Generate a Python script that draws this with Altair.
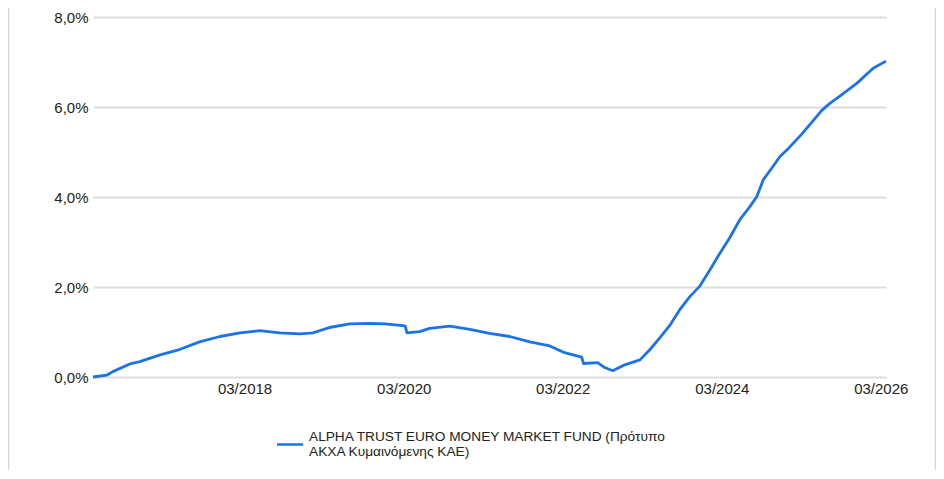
import altair as alt
import pandas as pd

# ---- data ----
dates = [
    "2016-04-04", "2016-06-06", "2016-07-04", "2016-09-20", "2016-11-05",
    "2017-02-06", "2017-05-06", "2017-08-06", "2017-11-08", "2018-02-08",
    "2018-05-09", "2018-08-09", "2018-11-10", "2019-01-09", "2019-03-26",
    "2019-06-26", "2019-09-27", "2019-12-05", "2020-02-26", "2020-03-08",
    "2020-03-16", "2020-05-13", "2020-06-28", "2020-09-29", "2020-12-30",
    "2021-03-30", "2021-07-01", "2021-10-01", "2022-01-01", "2022-03-10",
    "2022-05-27", "2022-06-05", "2022-08-09", "2022-09-10", "2022-10-17",
    "2022-12-11", "2023-02-19", "2023-04-04", "2023-05-19", "2023-07-05",
    "2023-08-20", "2023-10-05", "2023-11-21", "2024-01-06", "2024-02-21",
    "2024-04-07", "2024-05-22", "2024-07-07", "2024-08-09", "2024-09-07",
    "2024-10-16", "2024-11-23", "2025-01-01", "2025-02-28", "2025-04-15",
    "2025-06-02", "2025-07-10", "2025-08-25", "2025-11-12", "2026-01-25",
    "2026-03-25",
]
values = [
    0.00, 0.04, 0.12, 0.29, 0.34,
    0.49, 0.61, 0.78, 0.90, 0.98,
    1.03, 0.98, 0.96, 0.98, 1.10,
    1.18, 1.19, 1.18, 1.14, 1.13,
    0.98, 1.01, 1.08, 1.13, 1.06,
    0.97, 0.90, 0.78, 0.69, 0.54,
    0.44, 0.30, 0.32, 0.21, 0.14,
    0.27, 0.38, 0.60, 0.86, 1.14,
    1.49, 1.78, 2.02, 2.38, 2.75,
    3.10, 3.49, 3.78, 4.01, 4.38,
    4.64, 4.90, 5.08, 5.38, 5.64,
    5.92, 6.08, 6.24, 6.53, 6.86,
    7.02,
]
series_name = "ALPHA TRUST EURO MONEY MARKET FUND (Πρότυπο ΑΚΧΑ Κυμαινόμενης ΚΑΕ)"
y_ticks = [0, 2, 4, 6, 8]
x_tick_years = [2018, 2020, 2022, 2024, 2026]

df = pd.DataFrame({"date": dates, "value": values, "series": series_name})
legend_df = pd.DataFrame({"series": [series_name]})

FONT = "Liberation Sans"
TEXT = "#222222"
BLUE = "#1a73e8"

W, H = 793, 360
PAD = {"left": 85, "top": 9, "right": 50, "bottom": 93}

line = alt.Chart(df).mark_line(strokeWidth=2.8, strokeJoin="round", color=BLUE).encode(
    x=alt.X(
        "date:T",
        scale=alt.Scale(type="utc", domain=[dates[0], dates[-1]], nice=False),
        axis=alt.Axis(
            values=[alt.DateTime(year=y, month=3, date=1, utc=True) for y in x_tick_years],
            format="%m/%Y", title=None, grid=False, domain=False, ticks=False,
            labelFont=FONT, labelFontSize=15, labelColor=TEXT, labelPadding=4,
            labelFlush=False, labelOverlap=False,
        ),
    ),
    y=alt.Y(
        "value:Q",
        scale=alt.Scale(domain=[0, 8], nice=False),
        axis=alt.Axis(
            values=y_ticks,
            labelExpr="replace(format(datum.value, '.1f'), '.', ',') + '%'",
            title=None, domain=False, ticks=False,
            gridColor="#dedede", gridWidth=2,
            labelFont=FONT, labelFontSize=15, labelColor=TEXT, labelPadding=5,
        ),
    ),
    detail="series:N",
)

# legend (symbol + two-line label) below the plot
legend_symbol = alt.Chart(legend_df).mark_rule(color=BLUE, strokeWidth=2.5).encode(
    x=alt.value(184), x2=alt.value(210), y=alt.value(427.5),
)
legend_text = alt.Chart(legend_df).transform_calculate(
    lines="[substring(datum.series, 0, indexof(datum.series, ' ΑΚΧΑ')), "
          "substring(datum.series, indexof(datum.series, 'ΑΚΧΑ'))]"
).mark_text(
    align="left", baseline="top", lineHeight=15, font=FONT, fontSize=13.7, color=TEXT,
).encode(
    x=alt.value(216), y=alt.value(413), text="lines:N",
)

border_df = pd.DataFrame({"side": ["left", "right"], "px": [-84.5, 842.5]})
border = alt.Chart(border_df).mark_rule(color="#d4d4d4", strokeWidth=1.5).encode(
    x=alt.X("px:Q", scale=None),
    y=alt.value(-PAD["top"]),
    y2=alt.value(H + PAD["bottom"]),
)

chart = alt.layer(border, line, legend_symbol, legend_text).properties(
    width=W, height=H, padding=PAD,
    autosize=alt.AutoSizeParams(type="none"),
    background="white",
).configure_view(stroke=None)

chart.save("out.html", embed_options={"renderer": "svg", "actions": False})
